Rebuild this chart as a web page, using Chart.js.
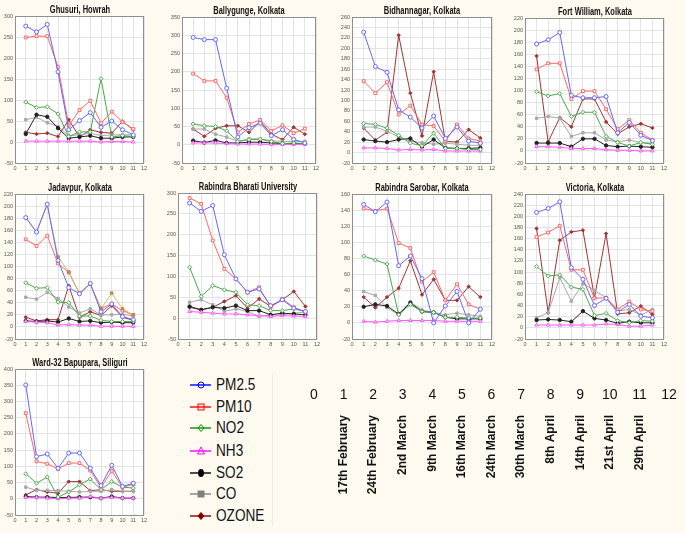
<!DOCTYPE html>
<html>
<head>
<meta charset="utf-8">
<script src="https://cdn.jsdelivr.net/npm/chart.js@4.4.1/dist/chart.umd.min.js"></script>
<style>
  html, body { margin:0; padding:0; background:#fffaf0; }
  #page { position:relative; width:685px; height:533px; overflow:hidden; }
  #page canvas { position:absolute; }
  .ttl { position:absolute; width:200px; margin-left:-100px; text-align:center; white-space:nowrap;
         font-family:"Liberation Sans",Arial,sans-serif; font-weight:bold; font-size:11px; line-height:12px; color:#111;
         transform:scaleX(0.68); transform-origin:50% 50%; }
  #legend { position:absolute; left:186px; top:374px; width:86px; height:152px; border-right:1px solid #efe9dc; }
  .lg-item { position:absolute; left:4px; height:22px; display:flex; align-items:center; gap:4px;
             font-family:"Liberation Sans",Arial,sans-serif; font-size:17px; color:#111; }
  .lg-item span { display:inline-block; transform:scaleX(0.8); transform-origin:0 50%; }
</style>
</head>
<body>
<div id="page"><div id="legend"></div></div>
<script>
'use strict';

/* ── Data (week index 1..11, concentrations) ── */
const weeks = [1, 2, 3, 4, 5, 6, 7, 8, 9, 10, 11];
const pollutants = ['PM2.5', 'PM10', 'NO2', 'NH3', 'SO2', 'CO', 'OZONE'];
const axisNumbers = [0, 1, 2, 3, 4, 5, 6, 7, 8, 9, 10, 11, 12];
const dateLabels = ['17th February', '24th February', '2nd March', '9th March', '16th March', '24th March',
                    '30th March', '8th April', '14th April', '21st April', '29th April'];

// rows: PM2.5, PM10, NO2, NH3, SO2, CO, OZONE
const ghusuri = [
  [276, 262, 280, 167, 29, 51, 70, 35, 50, 29, 17],
  [249, 252, 252, 179, 39, 76, 98, 45, 72, 48, 31],
  [95, 82, 84, 67, 13, 24, 24, 151, 12, 15, 13],
  [2, 2, 2, 2, 2, 2, 2, 0, 1, 1, 0],
  [19, 65, 60, 33, 9, 12, 15, 9, 9, 12, 12],
  [53, 59, 46, 37, 15, 17, 21, 15, 17, 17, 17],
  [23, 19, 21, 13, 53, 12, 29, 23, 21, 49, 29],
];
const ballygunge = [
  [294, 288, 288, 155, 21, 47, 59, 25, 41, 15, 5],
  [195, 175, 175, 129, 34, 57, 68, 38, 53, 32, 44],
  [57, 52, 50, 38, 9, 14, 15, 9, 3, 5, 3],
  [5, 5, 5, 3, 2, 2, 2, 1, 1, 1, 1],
  [11, 6, 12, 5, 5, 7, 7, 5, 3, 3, 3],
  [43, 43, 29, 21, 9, 16, 16, 11, 9, 9, 9],
  [43, 23, 45, 52, 52, 34, 64, 29, 14, 48, 29],
];
const bidhannagar = [
  [231, 165, 154, 82, 68, 47, 70, 27, 49, 22, 18],
  [137, 114, 135, 73, 90, 54, 51, 22, 54, 27, 22],
  [56, 54, 47, 33, 18, 13, 37, 8, 8, 6, 6],
  [9, 9, 8, 5, 6, 5, 6, 3, 3, 3, 3],
  [25, 22, 20, 25, 27, 11, 25, 9, 8, 8, 9],
  [49, 49, 41, 30, 22, 19, 16, 18, 16, 14, 14],
  [47, 24, 39, 225, 114, 32, 155, 22, 20, 44, 28],
];
const fortWilliam = [
  [177, 184, 196, 92, 88, 88, 90, 30, 47, 26, 17],
  [135, 145, 145, 86, 99, 99, 69, 36, 51, 30, 18],
  [98, 91, 95, 57, 64, 64, 24, 14, 8, 14, 11],
  [7, 7, 6, 4, 4, 4, 2, 1, 1, 0, 0],
  [13, 13, 13, 7, 20, 20, 9, 7, 8, 7, 6],
  [54, 57, 54, 24, 30, 30, 18, 15, 18, 14, 13],
  [157, 15, 55, 40, 86, 86, 48, 28, 40, 45, 38],
];
const jadavpur = [
  [181, 157, 203, 110, 65, 55, 72, 25, 38, 17, 12],
  [145, 134, 151, 105, 90, 55, 71, 31, 38, 27, 20],
  [73, 64, 65, 41, 40, 18, 18, 11, 9, 9, 9],
  [9, 8, 7, 3, 4, 3, 3, 1, 1, 1, 1],
  [10, 9, 10, 8, 14, 9, 10, 7, 8, 7, 7],
  [49, 46, 57, 47, 33, 23, 30, 20, 20, 21, 18],
  [16, 10, 12, 12, 68, 16, 25, 19, 35, 16, 11],
];
const jadavpurExtra = [181, 157, 203, 116, 91, 56, 71, 30, 56, 30, 20];
const rabindraBharati = [
  [276, 256, 270, 152, 94, 62, 70, 30, 44, 24, 16],
  [288, 274, 186, 118, 94, 62, 74, 26, 46, 26, 14],
  [122, 52, 78, 68, 62, 32, 30, 18, 18, 22, 16],
  [16, 14, 12, 10, 10, 8, 6, 4, 6, 5, 4],
  [28, 20, 26, 24, 30, 18, 18, 8, 12, 10, 8],
  [38, 44, 32, 16, 22, 16, 4, 8, 8, 12, 14],
  [26, 20, 26, 40, 54, 24, 46, 28, 44, 64, 28],
];
const rabindraSarobar = [
  [147, 138, 150, 71, 83, 55, 0, 21, 39, 0, 17],
  [142, 139, 142, 99, 93, 51, 63, 28, 48, 23, 17],
  [83, 78, 73, 10, 23, 14, 13, 7, 7, 6, 6],
  [2, 1, 2, 3, 3, 3, 3, 2, 2, 2, 2],
  [20, 23, 21, 11, 25, 14, 13, 7, 5, 5, 5],
  [39, 34, 19, 10, 26, 16, 13, 10, 12, 10, 8],
  [32, 19, 32, 43, 77, 35, 54, 28, 28, 45, 32],
];
const victoria = [
  [207, 214, 226, 108, 87, 40, 53, 28, 42, 21, 18],
  [163, 171, 183, 104, 104, 53, 54, 33, 47, 33, 30],
  [110, 93, 95, 73, 69, 22, 26, 13, 9, 13, 12],
  [5, 5, 5, 5, 5, 5, 7, 6, 3, 3, 5],
  [14, 15, 14, 11, 30, 17, 14, 8, 11, 9, 9],
  [18, 27, 90, 48, 79, 67, 54, 30, 33, 23, 33],
  [178, 27, 157, 172, 175, 54, 169, 25, 27, 39, 24],
];
const ward32 = [
  [351, 130, 138, 94, 141, 141, 94, 41, 103, 38, 48],
  [264, 115, 108, 92, 110, 110, 87, 35, 86, 35, 45],
  [77, 48, 67, 5, 21, 43, 61, 28, 53, 36, 33],
  [4, 4, 2, 0, 2, 2, 7, 2, 4, 2, 2],
  [7, 5, 5, 4, 4, 5, 5, 2, 7, 2, 2],
  [36, 26, 26, 25, 23, 21, 23, 23, 28, 23, 23],
  [12, 28, 21, 17, 53, 53, 25, 28, 23, 23, 23],
];

/* ── Styling / layout ── */
const styles = [
  { line:'#6666ff', legend:'#0000ff', point:'circle',   open:true  },
  { line:'#ff6666', legend:'#ff0000', point:'rect',     open:true  },
  { line:'#4aa84a', legend:'#009000', point:'rectRot',  open:true  },
  { line:'#ff55ff', legend:'#ff00ff', point:'triangle', open:true  },
  { line:'#222222', legend:'#000000', point:'circle',   open:false },
  { line:'#a8a8a8', legend:'#808080', point:'rect',     open:false },
  { line:'#a03535', legend:'#800000', point:'rectRot',  open:false },
];
const YW = 14, TH = 16, XH = 10, RP = 6;

// plot rectangles in page px: [left, top, right, bottom]
const panels = [
  { name:'Ghusuri, Howrah',             data:ghusuri,         rect:[15, 16, 144, 163],  min:-50, max:300, step:50 },
  { name:'Ballygunge, Kolkata',         data:ballygunge,      rect:[182, 17, 316, 163], min:-50, max:350, step:50 },
  { name:'Bidhannagar, Kolkata',        data:bidhannagar,     rect:[352, 17, 492, 163], min:-20, max:260, step:20 },
  { name:'Fort William, Kolkata',       data:fortWilliam,     rect:[525, 18, 664, 163], min:-20, max:220, step:20 },
  { name:'Jadavpur, Kolkata',           data:jadavpur,        rect:[15, 194, 144, 339], min:-20, max:220, step:20, extra:jadavpurExtra },
  { name:'Rabindra Bharati University', data:rabindraBharati, rect:[178, 193, 317, 339], min:-50, max:300, step:50 },
  { name:'Rabindra Sarobar, Kolkata',   data:rabindraSarobar, rect:[352, 194, 492, 339], min:-20, max:160, step:20 },
  { name:'Victoria, Kolkata',           data:victoria,        rect:[525, 194, 664, 339], min:-20, max:240, step:20 },
  { name:'Ward-32 Bapupara, Siliguri',  data:ward32,          rect:[15, 369, 144, 515], min:-50, max:400, step:50 },
];

const framePlugin = {
  id: 'frame',
  beforeDraw(chart) {
    const { ctx, chartArea: a } = chart;
    ctx.save();
    ctx.fillStyle = '#ffffff';
    ctx.fillRect(a.left, a.top, a.width, a.height);
    ctx.restore();
  },
  afterDraw(chart) {
    const { ctx, chartArea: a } = chart;
    ctx.save();
    ctx.strokeStyle = '#8f8f8f';
    ctx.lineWidth = 1;
    ctx.strokeRect(Math.round(a.left) + 0.5, Math.round(a.top) + 0.5, Math.round(a.width) - 1, Math.round(a.height));
    ctx.restore();
  },
};

const page = document.getElementById('page');

function addCanvas(left, top, w, h) {
  const c = document.createElement('canvas');
  c.style.left = left + 'px';
  c.style.top = top + 'px';
  c.style.width = w + 'px';
  c.style.height = h + 'px';
  c.width = w; c.height = h;
  page.appendChild(c);
  return c;
}

function stationChart(p) {
  const [l, t, r, b] = p.rect;
  const w = (r - l) + YW + RP, h = (b - t) + TH + XH;
  const canvas = addCanvas(l - YW, t - TH, w, h);

  const ttl = document.createElement('div');
  ttl.className = 'ttl';
  ttl.textContent = p.name;
  ttl.style.left = ((l + r) / 2) + 'px';
  ttl.style.top = (t - 13) + 'px';
  page.appendChild(ttl);

  const datasets = p.data.map((vals, i) => {
    const s = styles[i];
    return {
      label: pollutants[i],
      data: weeks.map((x, k) => ({ x, y: vals[k] })),
      borderColor: s.line, borderWidth: 1,
      pointStyle: s.point, pointRadius: s.open ? 2 : 1.7,
      pointBorderColor: s.line, pointBorderWidth: 1,
      pointBackgroundColor: s.open ? '#ffffff' : s.line,
    };
  });
  if (p.extra) {
    datasets.splice(1, 0, {
      label: 'extra',
      data: weeks.map((x, k) => ({ x, y: p.extra[k] })),
      borderColor: '#c4c47a', borderWidth: 1,
      pointStyle: 'rect', pointRadius: 1.7,
      pointBorderColor: '#c08040', pointBackgroundColor: '#d09050',
    });
  }
  new Chart(canvas, {
    type: 'line',
    data: { datasets },
    plugins: [framePlugin],
    options: {
      responsive: false, animation: false,
      layout: { padding: { left: 0, right: RP, top: TH, bottom: 0 } },
      plugins: { legend: { display: false }, tooltip: { enabled: false } },
      scales: {
        x: {
          type: 'linear', min: 0, max: 12,
          afterFit: s => { s.height = XH; },
          ticks: { stepSize: 1, font: { size: 5.5 }, color: '#555', padding: 2, maxRotation: 0, autoSkip: false },
          grid: { color: '#e4e4e4', drawTicks: false },
          border: { display: false },
        },
        y: {
          min: p.min, max: p.max,
          afterFit: s => { s.width = YW; },
          ticks: { stepSize: p.step, font: { size: 5.5 }, color: '#555', padding: 2 },
          grid: { color: '#e4e4e4', drawTicks: false },
          border: { display: false },
        },
      },
    },
  });
}

function dateAxisChart() {
  const canvas = addCanvas(300, 380, 385, 153);
  new Chart(canvas, {
    type: 'line',
    data: { datasets: [] },
    options: {
      responsive: false, animation: false,
      layout: { padding: { left: 14, right: 16, top: 0, bottom: 0 } },
      plugins: { legend: { display: false }, tooltip: { enabled: false } },
      scales: {
        xTop: {
          type: 'linear', position: 'top', axis: 'x', min: 0, max: 12,
          afterFit: s => { s.height = 26; },
          afterBuildTicks: s => { s.ticks = axisNumbers.map(v => ({ value: v })); },
          ticks: { font: { family: '"Liberation Sans",Arial,sans-serif', size: 14 }, color: '#111', padding: -6, maxRotation: 0, autoSkip: false },
          grid: { display: false }, border: { display: false },
        },
        x: {
          type: 'linear', position: 'bottom', min: 0, max: 12,
          afterFit: s => { s.height = 125; },
          afterBuildTicks: s => { s.ticks = axisNumbers.map(v => ({ value: v })); },
          ticks: {
            callback: v => dateLabels[v - 1] || '',
            font: { family: '"Liberation Sans",Arial,sans-serif', size: 12, weight: 'bold' },
            color: '#111', padding: -1, minRotation: 90, maxRotation: 90, autoSkip: false,
          },
          grid: { display: false }, border: { display: false },
        },
        y: { display: false, min: 0, max: 1 },
      },
    },
  });
}

function markerSvg(s) {
  const c = s.legend, f = s.open ? 'none' : c;
  let m = '';
  if (s.point === 'circle') m = s.open ? `<circle cx="11" cy="6" r="3" fill="none" stroke="${c}"/>`
                                       : `<ellipse cx="11" cy="6" rx="3" ry="4" fill="${c}"/>`;
  if (s.point === 'rect') m = s.open ? `<rect x="8" y="3" width="6" height="6" fill="none" stroke="${c}"/>`
                                     : `<rect x="7.5" y="2.5" width="7" height="7" fill="${c}"/>`;
  if (s.point === 'rectRot') m = `<polygon points="11,2.5 14,6 11,9.5 8,6" fill="${f}" stroke="${c}"/>`;
  if (s.point === 'triangle') m = `<polygon points="11,2 14.5,9 7.5,9" fill="none" stroke="${c}"/>`;
  return `<svg width="22" height="12" viewBox="0 0 22 12"><line x1="0" y1="6" x2="21" y2="6" stroke="${c}" stroke-width="1.4"/>${m}</svg>`;
}

function buildLegend() {
  const centers = [11, 33, 54, 77, 99, 120, 142];
  document.getElementById('legend').innerHTML = pollutants.map((name, i) =>
    `<div class="lg-item" style="top:${centers[i] - 11}px">${markerSvg(styles[i])}<span>${name}</span></div>`
  ).join('');
}

panels.forEach(stationChart);
dateAxisChart();
buildLegend();
</script>
</body>
</html>
